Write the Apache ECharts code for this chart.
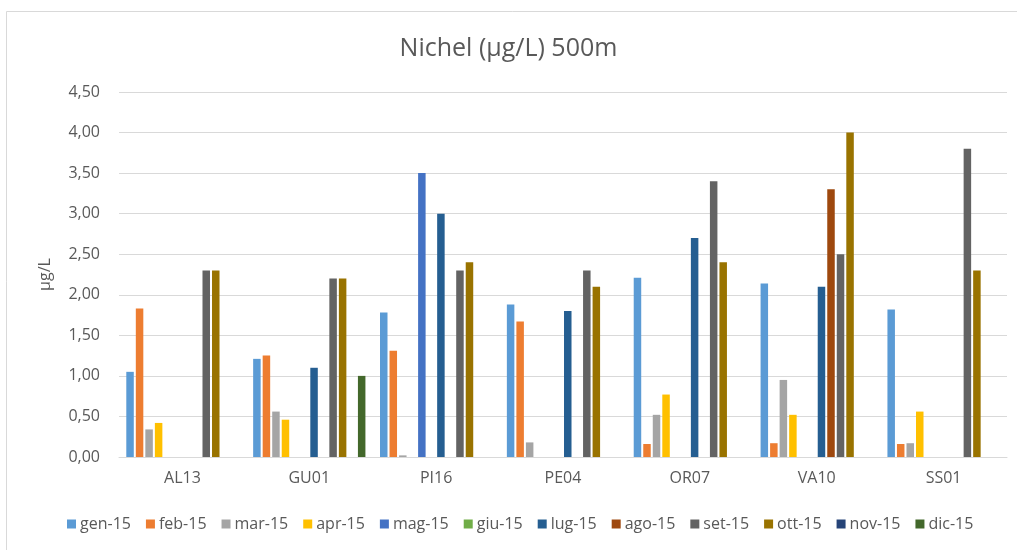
<!DOCTYPE html>
<html>
<head>
<meta charset="utf-8">
<script src="https://cdn.jsdelivr.net/npm/echarts@6/dist/echarts.min.js"></script>
<style>
  html, body { margin: 0; padding: 0; background: #fff; }
  #chart { width: 1017px; height: 550px; }
</style>
</head>
<body>
<div id="chart"></div>
<script>
// Stations along the x axis
const stations = ['AL13', 'GU01', 'PI16', 'PE04', 'OR07', 'VA10', 'SS01'];

// Monthly sampling labels (one series per month)
const months = ['gen-15', 'feb-15', 'mar-15', 'apr-15', 'mag-15', 'giu-15',
                'lug-15', 'ago-15', 'set-15', 'ott-15', 'nov-15', 'dic-15'];

// Nickel concentration (µg/L) at 500 m, per station, for each month
const gen15 = [1.05, 1.21, 1.78, 1.88, 2.21, 2.14, 1.82];
const feb15 = [1.83, 1.25, 1.31, 1.67, 0.16, 0.17, 0.16];
const mar15 = [0.34, 0.56, 0.02, 0.18, 0.52, 0.95, 0.17];
const apr15 = [0.42, 0.46, null, null, 0.77, 0.52, 0.56];
const mag15 = [null, null, 3.50, null, null, null, null];
const giu15 = [null, null, null, null, null, null, null];
const lug15 = [null, 1.10, 3.00, 1.80, 2.70, 2.10, null];
const ago15 = [null, null, null, null, null, 3.30, null];
const set15 = [2.30, 2.20, 2.30, 2.30, 3.40, 2.50, 3.80];
const ott15 = [2.30, 2.20, 2.40, 2.10, 2.40, 4.00, 2.30];
const nov15 = [null, null, null, null, null, null, null];
const dic15 = [null, 1.00, null, null, null, null, null];

const seriesData = [gen15, feb15, mar15, apr15, mag15, giu15,
                    lug15, ago15, set15, ott15, nov15, dic15];

// Office palette colours, one per month
const colors = ['#5B9BD5', '#ED7D31', '#A5A5A5', '#FFC000', '#4472C4', '#70AD47',
                '#255E91', '#9E480E', '#636363', '#997300', '#264478', '#43682B'];

// Y axis ticks
const yMin = 0, yMax = 4.5, yStep = 0.5;

const textColor = '#595959';
const fontFamily = '"Open Sans", "Noto Sans", sans-serif';

const chart = echarts.init(document.getElementById('chart'), null, { renderer: 'canvas' });

chart.setOption({
  animation: false,
  backgroundColor: '#ffffff',
  color: colors,
  textStyle: { fontFamily: fontFamily, color: textColor },
  title: {
    text: 'Nichel (µg/L) 500m',
    left: 'center',
    top: 31,
    textStyle: { fontFamily: fontFamily, fontSize: 25, fontWeight: 'normal', color: textColor }
  },
  graphic: [{
    type: 'rect',
    shape: { x: 6.5, y: 11.5, width: 1040, height: 560 },
    style: { fill: 'none', stroke: '#D9D9D9', lineWidth: 1 },
    silent: true
  }],
  legend: {
    data: months,
    bottom: 13,
    left: 62,
    itemWidth: 9,
    itemHeight: 9,
    itemGap: 15,
    icon: 'rect',
    textStyle: { fontFamily: fontFamily, fontSize: 16, color: textColor, padding: [0, 0, 0, -1] }
  },
  grid: { left: 119, right: 10, top: 92, bottom: 93, containLabel: false },
  xAxis: {
    type: 'category',
    data: stations,
    axisLine: { show: true, lineStyle: { color: '#D9D9D9', width: 1 } },
    axisTick: { show: false },
    axisLabel: { fontFamily: fontFamily, fontSize: 16, color: textColor, margin: 13 }
  },
  yAxis: {
    type: 'value',
    min: yMin,
    max: yMax,
    interval: yStep,
    name: 'µg/L',
    nameLocation: 'middle',
    nameGap: 66,
    nameRotate: 90,
    nameTextStyle: { fontFamily: fontFamily, fontSize: 16, color: textColor },
    axisLine: { show: false },
    axisTick: { show: false },
    splitLine: { lineStyle: { color: '#D9D9D9', width: 1 } },
    axisLabel: {
      fontFamily: fontFamily,
      fontSize: 16,
      color: textColor,
      margin: 19,
      formatter: v => v.toFixed(2).replace('.', ',')
    }
  },
  series: months.map((m, i) => ({
    name: m,
    type: 'bar',
    data: seriesData[i],
    barWidth: 7.5,
    barGap: '27%',
    itemStyle: { color: colors[i] }
  }))
});
</script>
</body>
</html>
